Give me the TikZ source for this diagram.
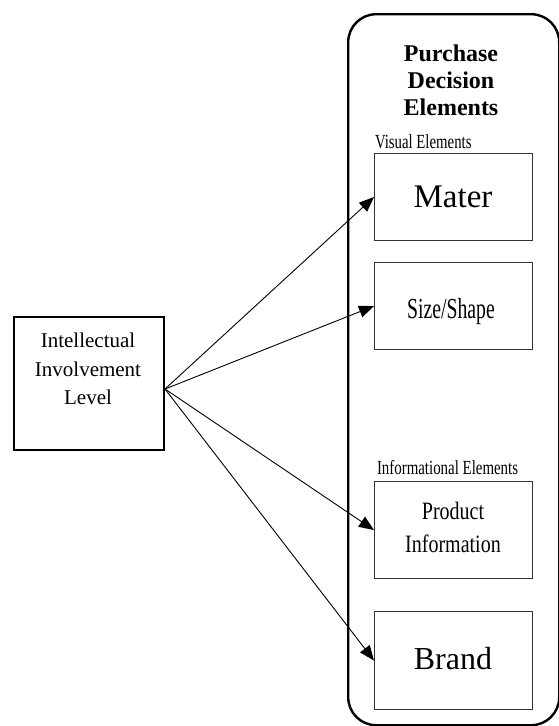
\documentclass[tikz,border=0pt]{standalone}
\usepackage{fontspec}
\setmainfont{Liberation Serif}
\usetikzlibrary{arrows.meta,positioning}
\begin{document}
\begin{tikzpicture}[x=1pt,y=-1pt,
  innerbox/.style={draw=black!80, line width=1.1pt, minimum width=158pt, minimum height=#1, inner sep=0pt, anchor=north west},
  plain/.style={inner sep=0pt, outer sep=0pt},
  conn/.style={line width=0.9pt, -{Triangle[length=15pt,width=12pt]}}]
\useasboundingbox (0,0) rectangle (558,726);
% container
\node[draw, line width=2.4pt, rounded corners=28pt, minimum width=211pt, minimum height=711pt, inner sep=0pt, anchor=north west] (cont) at (347,13) {};
\node[plain, align=center, font=\bfseries\fontsize{24}{27}\selectfont] (title) at (451,80) {Purchase\\Decision\\Elements};
% left box
\node[draw, line width=2pt, minimum width=150pt, minimum height=133pt, inner sep=0pt, anchor=north west] (iil) at (13,316) {};
\node[plain, align=center, font=\fontsize{21}{28.5}\selectfont] (iiltext) at (88,369) {Intellectual\\Involvement\\Level};
% visual elements
\node[plain, anchor=west, font=\fontsize{20}{24}\selectfont] (vis) at (375,142) {\scalebox{0.74}[1]{Visual Elements}};
\node[innerbox=87pt] (mater) at (374,153) {};
\node[plain, font=\fontsize{33}{36}\selectfont] (matertext) at (453,197) {Mater};
\node[innerbox=87pt] (size) at (374,262) {};
\node[plain, font=\fontsize{29}{32}\selectfont] (sizetext) at (451,312) {\scalebox{0.68}[1]{Size/Shape}};
% informational elements
\node[plain, anchor=west, font=\fontsize{20}{24}\selectfont] (info) at (377,468) {\scalebox{0.745}[1]{Informational Elements}};
\node[innerbox=97pt] (prod) at (374,481) {};
\node[plain, font=\fontsize{25}{33}\selectfont] (prodtext) at (453,529) {\scalebox{0.8}[1]{\begin{tabular}{@{}c@{}}Product\\Information\end{tabular}}};
\node[innerbox=98pt] (brand) at (374,611) {};
\node[plain, font=\fontsize{32}{36}\selectfont] (brandtext) at (453,659) {Brand};
% connectors
\coordinate (src) at ([yshift=-5.5pt]iil.east);
\draw[conn] (src) -- (mater.west);
\draw[conn] (src) -- (size.west);
\draw[conn] (src) -- (prod.west);
\draw[conn] (src) -- (brand.west);
\end{tikzpicture}
\end{document}
